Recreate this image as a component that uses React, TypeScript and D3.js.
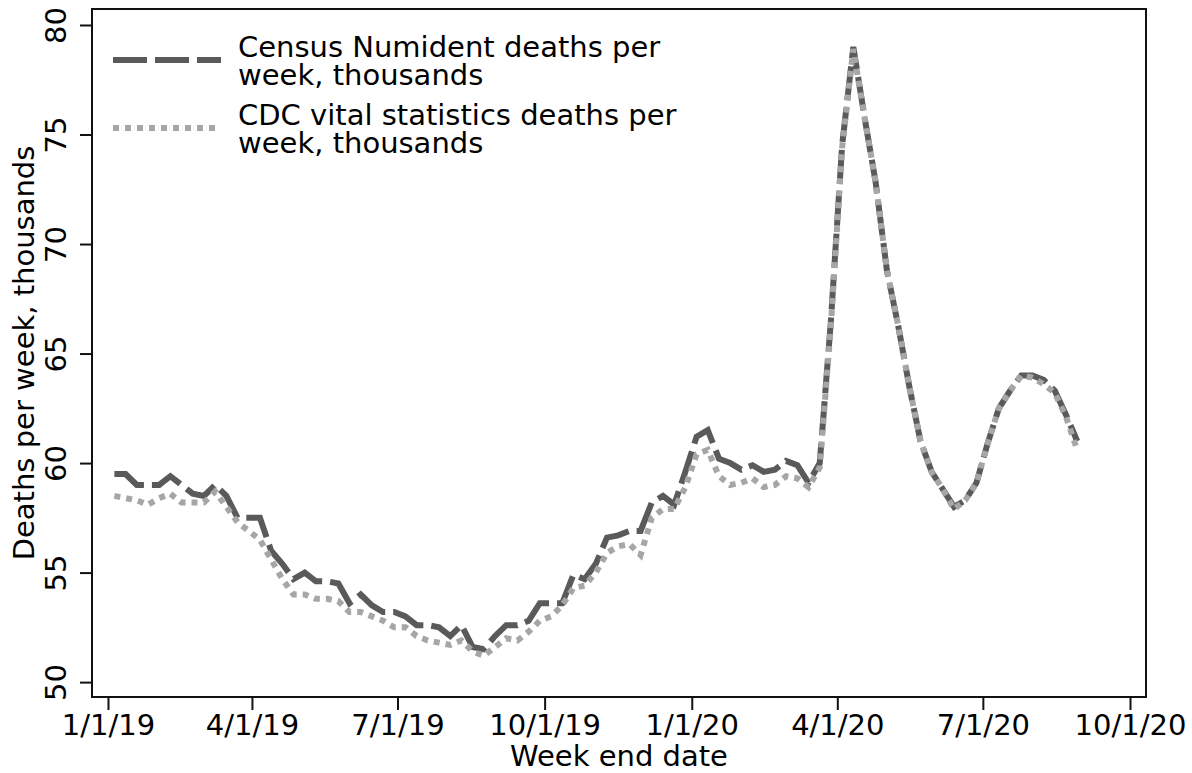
import React, { useEffect, useRef } from "react";
import * as d3 from "d3";

// weekly series, thousands of deaths, week ending on Saturdays from 1/5/2019
const firstWeekEnd = "2019-01-05";

const censusDeaths = [
  59.5, 59.5, 59.0, 59.0, 59.0, 59.4, 59.0, 58.6, 58.5, 59.0,
  58.5, 57.5, 57.5, 57.5, 56.0, 55.4, 54.7, 55.0, 54.6, 54.6,
  54.5, 53.6, 54.0, 53.5, 53.2, 53.2, 53.0, 52.6, 52.6, 52.5,
  52.1, 52.6, 51.6, 51.5, 52.1, 52.6, 52.6, 52.8, 53.6, 53.6,
  53.6, 54.9, 54.7, 55.4, 56.6, 56.7, 56.9, 56.9, 58.2, 58.5,
  58.1, 59.6, 61.2, 61.5, 60.2, 60.0, 59.7, 59.9, 59.6, 59.7,
  60.1, 59.9, 59.1, 60.0, 66.5, 74.5, 79.0, 75.8, 72.8, 68.8,
  66.3, 63.5, 61.0, 59.6, 58.8, 58.0, 58.3, 59.1, 60.9, 62.5,
  63.3, 64.0, 64.0, 63.8, 63.3, 62.2, 61.0,
];

const cdcDeaths = [
  58.5, 58.4, 58.3, 58.1, 58.4, 58.6, 58.2, 58.2, 58.2, 58.7,
  58.0, 57.3, 56.9, 56.5, 55.6, 54.7, 54.0, 54.0, 53.8, 53.8,
  53.7, 53.2, 53.2, 53.0, 52.8, 52.5, 52.5, 52.1, 51.9, 51.8,
  51.7, 51.9, 51.4, 51.2, 51.6, 52.0, 51.9, 52.3, 52.8, 53.0,
  53.5, 54.3, 54.4, 55.0, 55.9, 56.2, 56.3, 55.8, 57.5, 57.9,
  57.9, 58.9, 60.4, 60.6, 59.4, 59.0, 59.1, 59.3, 58.9, 59.0,
  59.4, 59.3, 58.9, 59.8, 66.3, 74.4, 78.9, 75.8, 72.8, 68.8,
  66.3, 63.5, 61.0, 59.6, 58.8, 57.9, 58.3, 59.1, 60.9, 62.5,
  63.3, 64.0, 63.9, 63.6, 63.2, 62.1, 60.6,
];

const xTickDates = ["2019-01-01", "2019-04-01", "2019-07-01", "2019-10-01", "2020-01-01", "2020-04-01", "2020-07-01", "2020-10-01"];
const xTickLabels = ["1/1/19", "4/1/19", "7/1/19", "10/1/19", "1/1/20", "4/1/20", "7/1/20", "10/1/20"];
const yTicks = [50, 55, 60, 65, 70, 75, 80];

const seriesLabels = [
  ["Census Numident deaths per", "week, thousands"],
  ["CDC vital statistics deaths per", "week, thousands"],
];

const FONT = "'DejaVu Sans', sans-serif";
const FS = 29;

export default function App() {
  const ref = useRef<SVGSVGElement>(null);

  useEffect(() => {
    const svg = d3.select(ref.current);
    svg.selectAll("*").remove();

    const width = 1192, height = 773;
    const left = 92, right = 1146, top = 9, bottom = 697;

    const parse = d3.timeParse("%Y-%m-%d");
    const start = parse(firstWeekEnd)!;
    const weeks = censusDeaths.map((_, i) => d3.timeDay.offset(start, 7 * i));

    const x = d3.scaleTime()
      .domain([parse("2018-12-22")!, parse("2020-10-11")!])
      .range([left, right]);
    const y = d3.scaleLinear().domain([49.32, 80.73]).range([bottom, top]);

    svg.attr("width", width).attr("height", height);
    svg.append("rect").attr("width", width).attr("height", height).attr("fill", "#fff");

    // lines (CDC drawn over census)
    const line = d3.line<number>()
      .x((_, i) => x(weeks[i]))
      .y(d => y(d));

    svg.append("path")
      .datum(censusDeaths)
      .attr("d", line)
      .attr("fill", "none")
      .attr("stroke", "#5a5a5a")
      .attr("stroke-width", 6)
      .attr("stroke-dasharray", "34,8");

    svg.append("path")
      .datum(cdcDeaths)
      .attr("d", line)
      .attr("fill", "none")
      .attr("stroke", "#a6a6a6")
      .attr("stroke-width", 6)
      .attr("stroke-dasharray", "6,6");

    // frame
    svg.append("rect")
      .attr("x", left).attr("y", top)
      .attr("width", right - left).attr("height", bottom - top)
      .attr("fill", "none").attr("stroke", "#111").attr("stroke-width", 2);

    // x axis
    const xAxis = svg.append("g")
      .attr("transform", `translate(0,${bottom})`)
      .call(d3.axisBottom(x)
        .tickValues(xTickDates.map(d => parse(d)!))
        .tickFormat((_, i) => xTickLabels[i])
        .tickSize(13).tickSizeOuter(0).tickPadding(4));
    xAxis.select(".domain").remove();
    xAxis.selectAll("line").attr("stroke", "#111").attr("stroke-width", 2);
    xAxis.selectAll("text").attr("font-size", FS).attr("font-family", FONT).attr("fill", "#000");

    // y axis
    const yAxis = svg.append("g")
      .attr("transform", `translate(${left},0)`)
      .call(d3.axisLeft(y).tickValues(yTicks).tickSize(12).tickSizeOuter(0));
    yAxis.select(".domain").remove();
    yAxis.selectAll("line").attr("stroke", "#111").attr("stroke-width", 2);
    yAxis.selectAll("text")
      .attr("transform", "rotate(-90)")
      .attr("x", 0).attr("y", -26).attr("dy", 0)
      .attr("text-anchor", "middle")
      .attr("font-size", FS).attr("font-family", FONT).attr("fill", "#000");

    // axis titles
    svg.append("text")
      .attr("transform", `translate(34,${(top + bottom) / 2}) rotate(-90)`)
      .attr("text-anchor", "middle")
      .attr("font-size", FS).attr("font-family", FONT)
      .text("Deaths per week, thousands");

    svg.append("text")
      .attr("x", (left + right) / 2).attr("y", 766)
      .attr("text-anchor", "middle")
      .attr("font-size", FS).attr("font-family", FONT)
      .text("Week end date");

    // legend
    const legendStyles = [
      { stroke: "#5a5a5a", dash: "34,8", y: 60 },
      { stroke: "#a6a6a6", dash: "6,6", y: 128 },
    ];
    legendStyles.forEach((s, i) => {
      svg.append("line")
        .attr("x1", 113).attr("x2", 221)
        .attr("y1", s.y).attr("y2", s.y)
        .attr("stroke", s.stroke).attr("stroke-width", 6)
        .attr("stroke-dasharray", s.dash);
      seriesLabels[i].forEach((ln, j) => {
        svg.append("text")
          .attr("x", 238).attr("y", s.y - 3 + j * 28)
          .attr("font-size", FS).attr("font-family", FONT)
          .text(ln);
      });
    });
  }, []);

  return <svg ref={ref} style={{ position: "absolute", left: 0, top: 0 }} />;
}
